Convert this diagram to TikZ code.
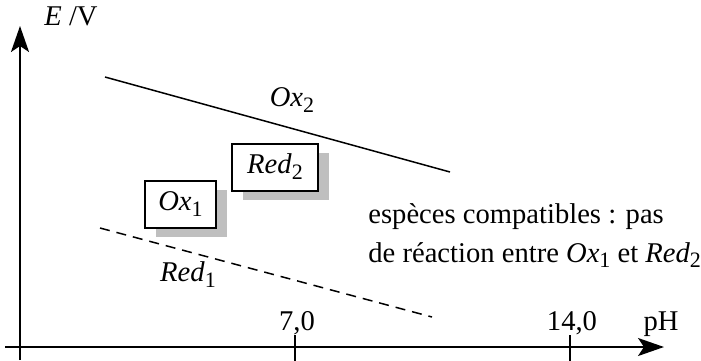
\documentclass[tikz,border=0pt]{standalone}
\usepackage{fontspec}
\setmainfont{Liberation Serif}
\usetikzlibrary{arrows.meta, shadows}
\newcommand{\indice}[1]{\raisebox{-0.45ex}{\fontsize{11}{12}\selectfont #1}}

\begin{document}
\begin{tikzpicture}[
    x=0.5pt, y=-0.5pt,
    font=\fontsize{14.3}{16}\selectfont,
    axis/.style={line width=1pt, -{Stealth[length=13pt, width=9pt, inset=3pt]}},
    tick/.style={line width=1pt},
    couple/.style={line width=0.75pt},
    box/.style={rectangle, draw, line width=1pt, fill=white, minimum height=23.5pt,
                inner sep=2pt,
                general shadow={fill=black!25, shadow xshift=5.5pt, shadow yshift=-4.5pt}},
    lbl/.style={inner sep=0pt}
]
    \useasboundingbox (0,0) rectangle (701,360);

    % axes
    \coordinate (ybot) at (20,360);
    \coordinate (ytop) at (20,26);
    \coordinate (xleft) at (5,347);
    \coordinate (xright) at (664,347);
    \draw[axis] (ybot) -- (ytop);
    \draw[axis] (xleft) -- (xright);
    \node[lbl, anchor=west] (ylab) at (44,16) {\textit{E} /V};
    \node[lbl, anchor=base] (xlab) at (661,330) {pH};

    % graduations
    \coordinate (t7) at (295,347);
    \coordinate (t14) at (570,347);
    \draw[tick] ([yshift=6pt]t7) -- ([yshift=-7pt]t7);
    \draw[tick] ([yshift=6pt]t14) -- ([yshift=-7pt]t14);
    \node[lbl, anchor=base] (g7) at (297,330) {7,0};
    \node[lbl, anchor=base] (g14) at (572,330) {14,0};

    % droites des couples
    \coordinate (oxa) at (105,77);
    \coordinate (oxb) at (450,172);
    \coordinate (reda) at (100,228);
    \coordinate (redb) at (432,317);
    \draw[couple] (oxa) -- (oxb);
    \draw[couple, dashed, dash pattern=on 5pt off 3.5pt] (reda) -- (redb);
    \node[lbl] (ox2) at (292,100) {\textit{Ox}\indice{2}};
    \node[lbl] (red1) at (188,275) {\textit{Red}\indice{1}};

    % especes
    \node[box, minimum width=43pt] (red2) at (275,167) {\textit{Red}\indice{2}};
    \node[box, minimum width=35.5pt] (ox1) at (180.5,204) {\textit{Ox}\indice{1}};

    \node[lbl, anchor=base west] (txt1) at (368,223) {espèces compatibles : pas};
    \node[lbl, anchor=base west] (txt2) at (368,262)
        {de réaction entre \textit{Ox}\indice{1} et \textit{Red}\indice{2}};
\end{tikzpicture}
\end{document}
